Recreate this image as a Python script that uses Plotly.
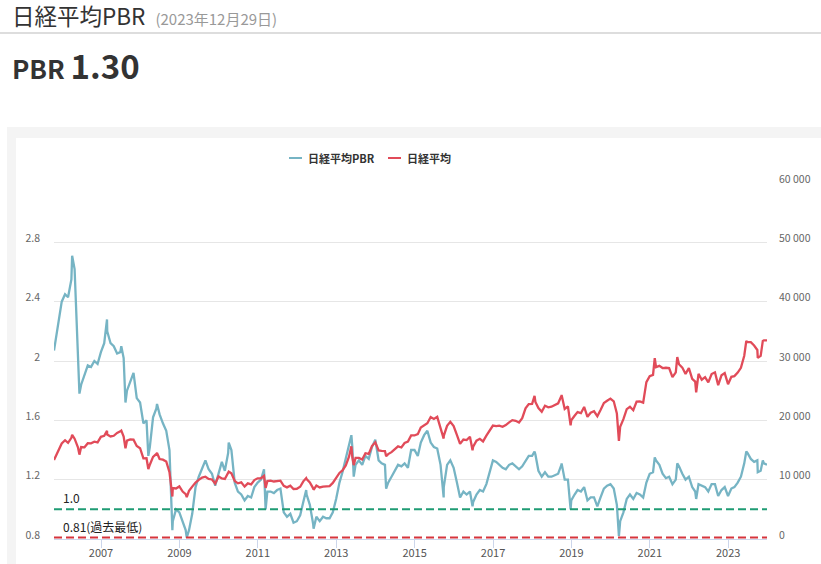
import calendar
import plotly.graph_objects as go

# ---------------- data ----------------
start_year, start_month = 2005, 10
end_year, end_month = 2023, 12

# month-end samples (first = series start, last = 2023-12-29)
pbr = [
    2.07, 2.25, 2.40,
    2.45, 2.43, 2.55, 2.62, 2.00, 1.84, 1.90, 1.97, 1.96, 2.00, 1.98, 2.06,
    2.12, 2.20, 2.12, 2.10, 2.05, 2.06, 2.02, 1.80, 1.86, 1.92, 1.75, 1.72,
    1.58, 1.60, 1.42, 1.62, 1.68, 1.64, 1.58, 1.53, 1.40, 0.92, 1.00, 0.98,
    0.92, 0.86, 0.86, 0.97, 1.15, 1.22, 1.28, 1.33, 1.27, 1.24, 1.16, 1.25,
    1.32, 1.26, 1.38, 1.40, 1.18, 1.12, 1.10, 1.06, 1.09, 1.08, 1.15, 1.18,
    1.20, 1.27, 1.12, 1.12, 1.11, 1.13, 1.14, 0.98, 0.95, 0.97, 0.91, 0.92,
    0.96, 1.05, 1.10, 1.03, 0.90, 0.95, 0.92, 0.95, 0.94, 0.94, 0.98, 1.07,
    1.18, 1.25, 1.35, 1.45, 1.42, 1.30, 1.33, 1.30, 1.36, 1.34, 1.42, 1.47,
    1.33, 1.31, 1.30, 1.18, 1.22, 1.26, 1.30, 1.29, 1.31, 1.28, 1.40, 1.40,
    1.36, 1.45, 1.50, 1.53, 1.45, 1.42, 1.41, 1.30, 1.15, 1.30, 1.33, 1.28,
    1.18, 1.08, 1.12, 1.10, 1.12, 1.05, 1.10, 1.13, 1.12, 1.17, 1.25, 1.33,
    1.32, 1.30, 1.28, 1.27, 1.30, 1.31, 1.29, 1.27, 1.29, 1.33, 1.36, 1.36,
    1.37, 1.26, 1.22, 1.25, 1.22, 1.22, 1.23, 1.24, 1.30, 1.20, 1.20, 1.06,
    1.10, 1.13, 1.12, 1.15, 1.06, 1.08, 1.08, 1.02, 1.08, 1.14, 1.16, 1.17,
    1.14, 1.03, 0.92, 0.98, 1.07, 1.10, 1.07, 1.11, 1.10, 1.08, 1.18, 1.24,
    1.25, 1.33, 1.30, 1.24, 1.21, 1.22, 1.17, 1.20, 1.29, 1.24, 1.20, 1.22,
    1.15, 1.12, 1.17, 1.16, 1.15, 1.12, 1.17, 1.17, 1.09, 1.13, 1.15, 1.09,
    1.14, 1.15, 1.18, 1.22, 1.31, 1.38, 1.34, 1.32, 1.33, 1.26, 1.31, 1.30,
]

nikkei = [
    13300, 14872, 16111,
    16650, 16205, 17059, 16906, 15467, 15505, 15456, 16140, 16127, 16399, 16274, 17225,
    17383, 17604, 17287, 17400, 17875, 18138, 17248, 16569, 16785, 16737, 15680, 15307,
    13592, 13603, 12525, 13849, 14338, 13481, 13376, 13072, 11259, 8576, 8512, 8859,
    7994, 7568, 8109, 8828, 9522, 9958, 10356, 10492, 10133, 10034, 9345, 10546,
    10198, 10126, 11089, 11057, 9768, 9382, 9537, 8824, 9369, 9202, 9937, 10228,
    10237, 10624, 9755, 9849, 9693, 9816, 9833, 8955, 8700, 8988, 8434, 8455,
    8802, 9723, 10083, 9520, 8542, 9006, 8695, 8839, 8870, 8928, 9446, 10395,
    11138, 11559, 12397, 13860, 13774, 13677, 13668, 13388, 14455, 14327, 15661, 16291,
    14914, 14841, 14827, 14304, 14632, 15162, 15620, 15425, 16173, 16413, 17459, 17450,
    17674, 18797, 19206, 19520, 20563, 20235, 20585, 18890, 17388, 19083, 19747, 19033,
    17518, 16026, 16758, 16666, 17234, 15575, 16569, 16887, 16449, 17425, 18308, 19114,
    19041, 19118, 18909, 19196, 19650, 20033, 19925, 19646, 20356, 22011, 22724, 22764,
    23098, 22068, 21454, 22467, 22201, 22305, 22553, 22865, 24120, 21920, 22351, 20015,
    20773, 21385, 21205, 22259, 20601, 21275, 21521, 20704, 21756, 22927, 23294, 23656,
    23205, 21143, 18917, 20193, 21878, 22288, 21710, 23140, 23185, 22977, 26434, 27444,
    27663, 28966, 29179, 28813, 28860, 28792, 27284, 28089, 29453, 28893, 27822, 28792,
    27002, 26527, 27821, 26848, 27280, 26393, 27802, 28092, 25937, 27587, 27969, 26095,
    27327, 27446, 28041, 28856, 30888, 33189, 33172, 32619, 31858, 30859, 33487, 33464,
]

# intra-month highs / lows visible in the chart
extra_dates = [
    "2006-04-07", "2006-06-14", "2007-02-26", "2007-07-09", "2007-08-17", "2008-03-17",
    "2008-06-06", "2008-10-27", "2009-03-10", "2010-04-05", "2011-03-15", "2012-03-27",
    "2012-06-04", "2013-05-22", "2013-06-13", "2014-04-11", "2015-09-29", "2016-06-24",
    "2018-01-23", "2018-10-02", "2018-12-25", "2020-03-19", "2021-02-16", "2021-09-14",
    "2022-03-09", "2023-06-19", "2023-10-04", "2023-11-20",
]
extra_pbr = [
    2.71, 1.78, 2.28, 2.10, 1.72, 1.36,
    1.71, 0.86, 0.81, 1.45, 1.00, 1.13,
    0.87, 1.50, 1.22, 1.14, 1.08, 1.02,
    1.39, 1.31, 1.00, 0.82, 1.35, 1.31,
    1.07, 1.39, 1.25, 1.33,
]
extra_nikkei = [
    17563, 14219, 18215, 18261, 15273, 11787,
    14489, 7162, 7054, 11339, 8605, 10255,
    8295, 15627, 12445, 13960, 16930, 14952,
    24124, 24270, 19155, 16553, 30468, 30670,
    24718, 33370, 30526, 33388,
]

series_names = ["日経平均PBR", "日経平均"]
left_tickvals = [0.8, 1.2, 1.6, 2.0, 2.4, 2.8, 3.2]
left_ticktext = ["0.8", "1.2", "1.6", "2", "2.4", "2.8", ""]
right_tickvals = [0, 10000, 20000, 30000, 40000, 50000, 60000]
right_ticktext = ["0", "10 000", "20 000", "30 000", "40 000", "50 000", "60 000"]
ref_lines = [(1.0, "1.0", "#1f9c74"), (0.81, "0.81(過去最低)", "#d6343d")]

# ---------------- assemble series ----------------
month_dates = []
y, m = start_year, start_month
while (y, m) <= (end_year, end_month):
    d = calendar.monthrange(y, m)[1]
    month_dates.append(f"{y}-{m:02d}-{d:02d}")
    m += 1
    if m > 12:
        m, y = 1, y + 1
month_dates[0] = "2005-10-20"
month_dates[-1] = "2023-12-29"

rows = sorted(list(zip(month_dates, pbr, nikkei)) + list(zip(extra_dates, extra_pbr, extra_nikkei)))
dates = [r[0] for r in rows]
pbr_s = [r[1] for r in rows]
nikkei_s = [r[2] for r in rows]

# ---------------- layout helpers ----------------
W, H = 821, 564
PL, PR, PT, PB = 54, 767, 183, 539
def fx(p):
    return (p - PL) / (PR - PL)
def fy(p):
    return (PB - p) / (PB - PT)

FONT = "Noto Sans CJK JP, Noto Sans, sans-serif"
TEAL = "#76b4c4"
RED = "#e14b59"
colors = [TEAL, RED]

fig = go.Figure()
fig.add_trace(go.Scatter(x=dates, y=pbr_s, name=series_names[0], mode="lines",
                         line=dict(color=TEAL, width=2.3), yaxis="y"))
fig.add_trace(go.Scatter(x=dates, y=nikkei_s, name=series_names[1], mode="lines",
                         line=dict(color=RED, width=2.3), yaxis="y2"))

shapes = [
    dict(type="rect", xref="paper", yref="paper", x0=fx(7), x1=fx(W), y0=fy(H), y1=fy(127),
         fillcolor="#f4f4f4", line=dict(width=0), layer="below"),
    dict(type="rect", xref="paper", yref="paper", x0=fx(16), x1=fx(W), y0=fy(H), y1=fy(138),
         fillcolor="#ffffff", line=dict(width=0), layer="below"),
    dict(type="line", xref="paper", yref="paper", x0=fx(0), x1=fx(W), y0=fy(33), y1=fy(33),
         line=dict(color="#dddddd", width=2)),
]
annotations = [
    dict(xref="paper", yref="paper", x=fx(11), y=fy(14.5), xanchor="left", yanchor="middle",
         showarrow=False, borderpad=0,
         text="日経平均PBR&nbsp;&nbsp;<span style='font-size:15px;color:#999999'>(2023年12月29日)</span>",
         font=dict(family=FONT, size=22.5, color="#333333")),
    dict(xref="paper", yref="paper", x=fx(10), y=fy(65), xanchor="left", yanchor="middle",
         showarrow=False,
         text="<b>PBR</b> <b><span style='font-size:33px'>1.30</span></b>",
         font=dict(family=FONT, size=26, color="#333333")),
]
# legend (drawn as line keys + labels, centred above the plot like the original)
legend_key_x = [289, 388]
for kx, name, col in zip(legend_key_x, series_names, colors):
    shapes.append(dict(type="line", xref="paper", yref="paper", x0=fx(kx), x1=fx(kx + 13),
                       y0=fy(158), y1=fy(158), line=dict(color=col, width=2)))
    annotations.append(dict(xref="paper", yref="paper", x=fx(kx + 17), y=fy(158),
                            xanchor="left", yanchor="middle", showarrow=False, text=f"<b>{name}</b>",
                            font=dict(family=FONT, size=11, color="#333333")))
for val, label, col in ref_lines:
    shapes.append(dict(type="line", xref="paper", yref="y", x0=0, x1=1, y0=val, y1=val,
                       line=dict(color=col, width=2, dash="8px,4px")))
    annotations.append(dict(xref="paper", yref="y", x=fx(61), y=val, xanchor="left",
                            yanchor="bottom", yshift=1, showarrow=False, text=label,
                            font=dict(family=FONT, size=12, color="#222222")))

fig.update_layout(
    width=W, height=H,
    margin=dict(l=PL, r=W - PR, t=PT, b=H - PB, pad=0, autoexpand=False),
    paper_bgcolor="#ffffff",
    plot_bgcolor="rgba(0,0,0,0)",
    font=dict(family=FONT, color="#666666"),
    showlegend=False,
    xaxis=dict(type="date", range=["2005-10-20", "2023-12-29"], tick0="2007-01-01", dtick="M24",
               tickformat="%Y", showgrid=False, showline=True, linecolor="#ccd6eb", linewidth=1,
               ticks="outside", ticklen=8, tickcolor="#ccd6eb", zeroline=False, automargin=False,
               ticklabelstandoff=-4,
               tickfont=dict(family=FONT, size=11, color="#555555")),
    yaxis=dict(range=[0.8, 3.2], tickvals=left_tickvals, ticktext=left_ticktext,
               showgrid=True, gridcolor="#e6e6e6", zeroline=False, ticks="", automargin=False,
               ticklabelstandoff=13, ticklabelshift=-4,
               tickfont=dict(family=FONT, size=10.5, color="#666666")),
    yaxis2=dict(range=[0, 60000], tickvals=right_tickvals, ticktext=right_ticktext,
                overlaying="y", side="right", showgrid=True, gridcolor="#e6e6e6",
                zeroline=False, ticks="", automargin=False, ticklabelstandoff=11, ticklabelshift=-4,
                tickfont=dict(family=FONT, size=10.5, color="#666666")),
    shapes=shapes,
    annotations=annotations,
    hovermode="x unified",
)

fig.write_html("out.html", config={"displayModeBar": False},
               post_script="document.body.style.margin='0px';document.body.style.padding='0px';")
